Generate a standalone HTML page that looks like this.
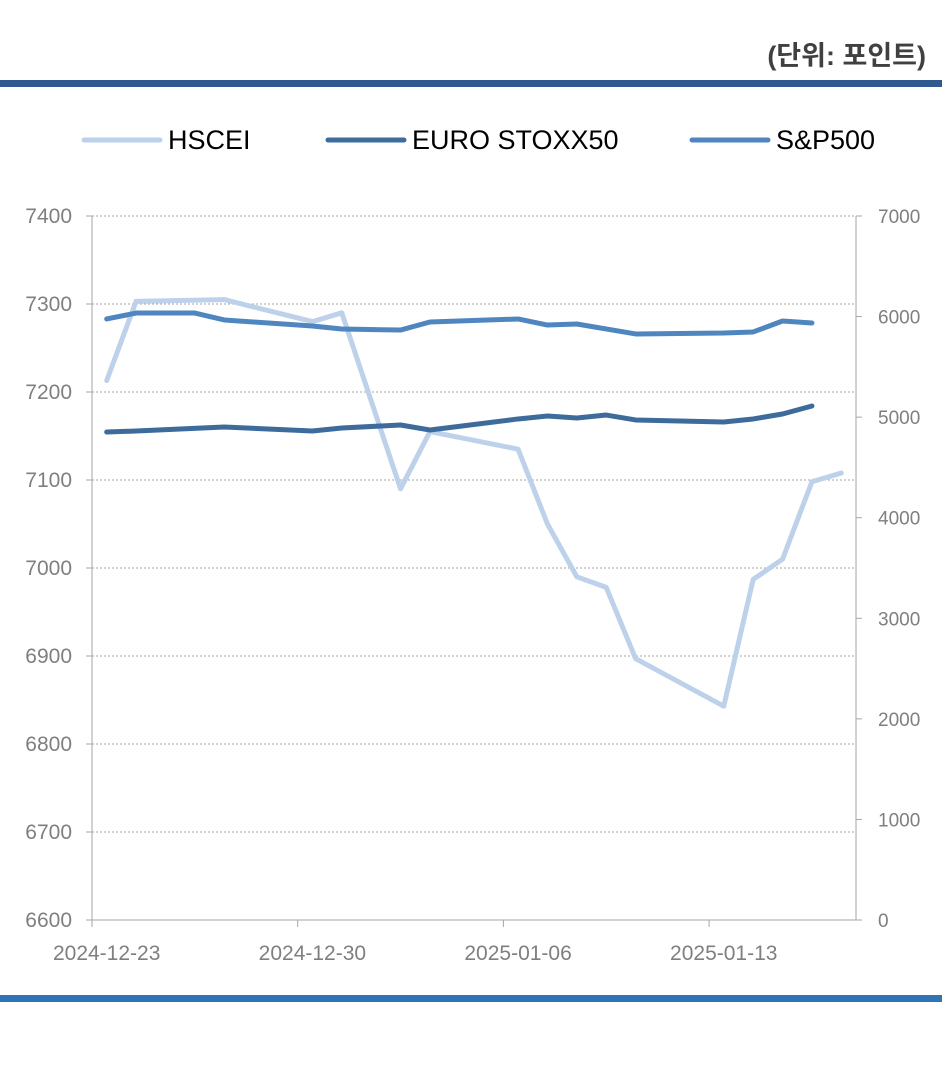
<!DOCTYPE html>
<html><head><meta charset="utf-8"><style>
body{margin:0;background:#fff;width:942px;height:1092px;overflow:hidden;font-family:"Liberation Sans","Noto Sans CJK KR",sans-serif}
</style></head><body>
<svg width="942" height="1092" style="position:absolute;left:0;top:0">
<text x="926" y="65" text-anchor="end" font-size="27" font-weight="bold" fill="#404040" font-family="Liberation Sans, Noto Sans CJK KR, sans-serif">(단위: 포인트)</text>
<rect x="0" y="80" width="942" height="7" fill="#2f5a90"/>
<rect x="0" y="995" width="942" height="7" fill="#2e75b6"/>
<g id="legend"></g>
<g id="grid"></g><g id="axes"></g><g id="series"></g>
</svg>
<script>
const hsDays=[0,1,4,7,8,10,11,14,15,16,17,18,21,22,23,24,25];
const hsVals=[7213,7303,7305,7280,7290,7090,7155,7135,7050,6990,6978,6897,6843,6987,7010,7098,7108];
const euDays=[0,1,4,7,8,10,11,14,15,16,17,18,21,22,23,24];
const euVals=[4852,4862,4902,4862,4892,4922,4872,4982,5011,4991,5021,4972,4952,4982,5031,5111];
const spDays=[0,1,3,4,7,8,10,11,14,15,16,18,21,22,23,24];
const spVals=[5976,6035,6035,5966,5906,5876,5866,5946,5976,5916,5926,5827,5837,5847,5956,5936];
const leftTicks=[6600,6700,6800,6900,7000,7100,7200,7300,7400];
const rightTicks=[0,1000,2000,3000,4000,5000,6000,7000];
const xLabels=["2024-12-23","2024-12-30","2025-01-06","2025-01-13"];
const NS="http://www.w3.org/2000/svg";
const X0=92,X1=856,Y0=920,Y1=216,ND=26;
const x=d=>X0+(X1-X0)/ND*(d+0.5);
const yL=v=>Y0-(v-6600)/800*(Y0-Y1);
const yR=v=>Y0-v/7000*(Y0-Y1);
function mk(t,a,p){const e=document.createElementNS(NS,t);for(const k in a)e.setAttribute(k,a[k]);p.appendChild(e);return e;}
const grid=document.getElementById('grid'),axes=document.getElementById('axes'),ser=document.getElementById('series'),leg=document.getElementById('legend');
leftTicks.forEach(v=>{
 if(v>6600){const g=mk('line',{x1:X0,x2:X1,y1:yL(v),y2:yL(v),stroke:'#a6a6a6','stroke-dasharray':'2,2'},grid);
 
 }
 mk('line',{x1:X0-6,x2:X0,y1:yL(v),y2:yL(v),stroke:'#a6a6a6'},axes);
 const t=mk('text',{x:X0-20,y:yL(v)+7,'text-anchor':'end','font-size':21,fill:'#7f7f7f'},axes);t.textContent=v;
 
 
});
rightTicks.forEach(v=>{
 mk('line',{x1:X1,x2:X1+6,y1:yR(v),y2:yR(v),stroke:'#a6a6a6'},axes);
 const t=mk('text',{x:X1+22,y:yR(v)+7,'font-size':19,fill:'#7f7f7f'},axes);t.textContent=v;
 
 
});
mk('line',{x1:X0,x2:X0,y1:Y1,y2:Y0,stroke:'#a6a6a6'},axes);
mk('line',{x1:X1,x2:X1,y1:Y1,y2:Y0,stroke:'#a6a6a6'},axes);
mk('line',{x1:X0,x2:X1,y1:Y0,y2:Y0,stroke:'#a6a6a6'},axes);
xLabels.forEach((l,i)=>{
 const d=i*7;
 mk('line',{x1:x(d)-(X1-X0)/ND/2,x2:x(d)-(X1-X0)/ND/2,y1:Y0,y2:Y0+7,stroke:'#a6a6a6'},axes);
 const t=mk('text',{x:x(d),y:960,'text-anchor':'middle','font-size':21,fill:'#7f7f7f'},axes);t.textContent=l;
 
 
});
function line(days,vals,fy,col,name){
 const p=mk('polyline',{points:days.map((d,i)=>x(d)+','+fy(vals[i])).join(' '),fill:'none',stroke:col,'stroke-width':5,'stroke-linejoin':'round','stroke-linecap':'round'},ser);
 
 
}
line(hsDays,hsVals,yL,'#bdd1ea','hscei-line');
line(euDays,euVals,yR,'#3d6b9c','euro-stoxx50-line');
line(spDays,spVals,yR,'#4f86c0','sp500-line');
[['HSCEI','#bdd1ea',84],['EURO STOXX50','#3d6b9c',328],['S&P500','#4f86c0',692]].forEach(([n,c,lx])=>{
 mk('line',{x1:lx,x2:lx+76,y1:140,y2:140,stroke:c,'stroke-width':5,'stroke-linecap':'round'},leg);
 const t=mk('text',{x:lx+84,y:149,'font-size':27,fill:'#000'},leg);t.textContent=n;
 
 
});
</script>
</body></html>
